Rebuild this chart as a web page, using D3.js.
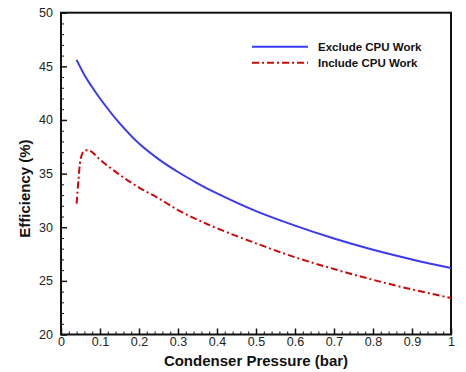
<!DOCTYPE html>
<html>
<head>
<meta charset="utf-8">
<script src="https://cdn.jsdelivr.net/npm/d3@7"></script>
<style>
  body { margin: 0; background: #fff; }
  svg { display: block; font-family: Arial, "Liberation Sans", sans-serif; }
</style>
</head>
<body>
<div id="chart"></div>
<script>
// pressure (bar) and efficiency (%)
const pressureExclude = [0.04, 0.06, 0.08, 0.1, 0.15, 0.2, 0.25, 0.3, 0.35, 0.4, 0.5, 0.6, 0.7, 0.8, 0.9, 1.0];
const effExclude = [45.6, 44.2, 43.05, 42.0, 39.7, 37.8, 36.35, 35.15, 34.1, 33.15, 31.5, 30.15, 28.95, 27.9, 27.0, 26.2];

const pressureInclude = [0.04, 0.045, 0.05, 0.055, 0.06, 0.07, 0.08, 0.1, 0.15, 0.2, 0.25, 0.3, 0.35, 0.4, 0.5, 0.6, 0.7, 0.8, 0.9, 1.0];
const effInclude = [32.2, 34.5, 36.3, 36.9, 37.1, 37.2, 37.0, 36.3, 34.9, 33.7, 32.7, 31.6, 30.7, 29.9, 28.5, 27.2, 26.1, 25.1, 24.2, 23.4];

const xTicks = [0, 0.1, 0.2, 0.3, 0.4, 0.5, 0.6, 0.7, 0.8, 0.9, 1];
const yTicks = [20, 25, 30, 35, 40, 45, 50];
const seriesNames = ["Exclude CPU Work", "Include CPU Work"];

const width = 466, height = 372;
const margin = { top: 12.7, right: 15, bottom: 37.5, left: 61 };

const svg = d3.select("#chart").append("svg")
  .attr("width", width)
  .attr("height", height);

const x = d3.scaleLinear().domain([0, 1]).range([margin.left, width - margin.right]);
const y = d3.scaleLinear().domain([20, 50]).range([height - margin.bottom, margin.top]);

// minor ticks, inward
const xMinor = d3.range(0, 1.0001, 0.02).filter(v => Math.abs(v * 10 - Math.round(v * 10)) > 1e-6);
const yMinor = d3.range(20, 50.001, 1).filter(v => v % 5 !== 0);

svg.append("g")
  .attr("transform", `translate(0,${y(20)})`)
  .call(d3.axisTop(x).tickValues(xMinor).tickSize(3).tickFormat(""))
  .call(g => g.select(".domain").remove())
  .call(g => g.selectAll("line").attr("stroke", "#111"));

svg.append("g")
  .attr("transform", `translate(${x(0)},0)`)
  .call(d3.axisRight(y).tickValues(yMinor).tickSize(3).tickFormat(""))
  .call(g => g.select(".domain").remove())
  .call(g => g.selectAll("line").attr("stroke", "#111"));

// major ticks, inward, labels outside
const xAxis = svg.append("g")
  .attr("transform", `translate(0,${y(20)})`)
  .call(d3.axisBottom(x).tickValues(xTicks).tickSizeInner(-6).tickSizeOuter(0).tickPadding(4)
    .tickFormat(d => d === 0 || d === 1 ? d3.format("d")(d) : d3.format(".1f")(d)));
xAxis.select(".domain").remove();
xAxis.selectAll("line").attr("stroke", "#111").attr("stroke-width", 1.5);
xAxis.selectAll("text").attr("font-size", 12.5).attr("fill", "#222").attr("dy", "0.6em");

const yAxis = svg.append("g")
  .attr("transform", `translate(${x(0)},0)`)
  .call(d3.axisLeft(y).tickValues(yTicks).tickSizeInner(-6).tickSizeOuter(0).tickPadding(8));
yAxis.select(".domain").remove();
yAxis.selectAll("line").attr("stroke", "#111").attr("stroke-width", 1.5);
yAxis.selectAll("text").attr("font-size", 12.5).attr("fill", "#222");

// frame
svg.append("rect")
  .attr("x", x(0))
  .attr("y", y(50))
  .attr("width", x(1) - x(0))
  .attr("height", y(20) - y(50))
  .attr("fill", "none")
  .attr("stroke", "#111")
  .attr("stroke-width", 2);

const line = d3.line()
  .x(d => x(d[0]))
  .y(d => y(d[1]))
  .curve(d3.curveCatmullRom.alpha(0.5));

svg.append("path")
  .datum(d3.zip(pressureExclude, effExclude))
  .attr("fill", "none")
  .attr("stroke", "#3a3af2")
  .attr("stroke-width", 2)
  .attr("d", line);

svg.append("path")
  .datum(d3.zip(pressureInclude, effInclude))
  .attr("fill", "none")
  .attr("stroke", "#cc0a0a")
  .attr("stroke-width", 2)
  .attr("stroke-dasharray", "7,3,2,3")
  .attr("d", line);

// legend
const legend = svg.append("g");
const legendStyles = [
  { color: "#3a3af2", dash: null },
  { color: "#cc0a0a", dash: "7,3,2,3" }
];
seriesNames.forEach((name, i) => {
  const ly = 46.7 + i * 16;
  legend.append("line")
    .attr("x1", 252).attr("x2", 308)
    .attr("y1", ly).attr("y2", ly)
    .attr("stroke", legendStyles[i].color)
    .attr("stroke-width", 2)
    .attr("stroke-dasharray", legendStyles[i].dash);
  legend.append("text")
    .attr("x", 318)
    .attr("y", ly)
    .attr("dy", "0.35em")
    .attr("font-size", 11.5)
    .attr("font-weight", "bold")
    .attr("fill", "#111")
    .text(name);
});

// axis titles
svg.append("text")
  .attr("x", (x(0) + x(1)) / 2)
  .attr("y", 366)
  .attr("text-anchor", "middle")
  .attr("font-size", 15)
  .attr("font-weight", "bold")
  .attr("fill", "#111")
  .text("Condenser Pressure (bar)");

svg.append("text")
  .attr("transform", `translate(30,${(y(20) + y(50)) / 2 + 15}) rotate(-90)`)
  .attr("text-anchor", "middle")
  .attr("font-size", 15)
  .attr("font-weight", "bold")
  .attr("fill", "#111")
  .text("Efficiency (%)");
</script>
</body>
</html>
